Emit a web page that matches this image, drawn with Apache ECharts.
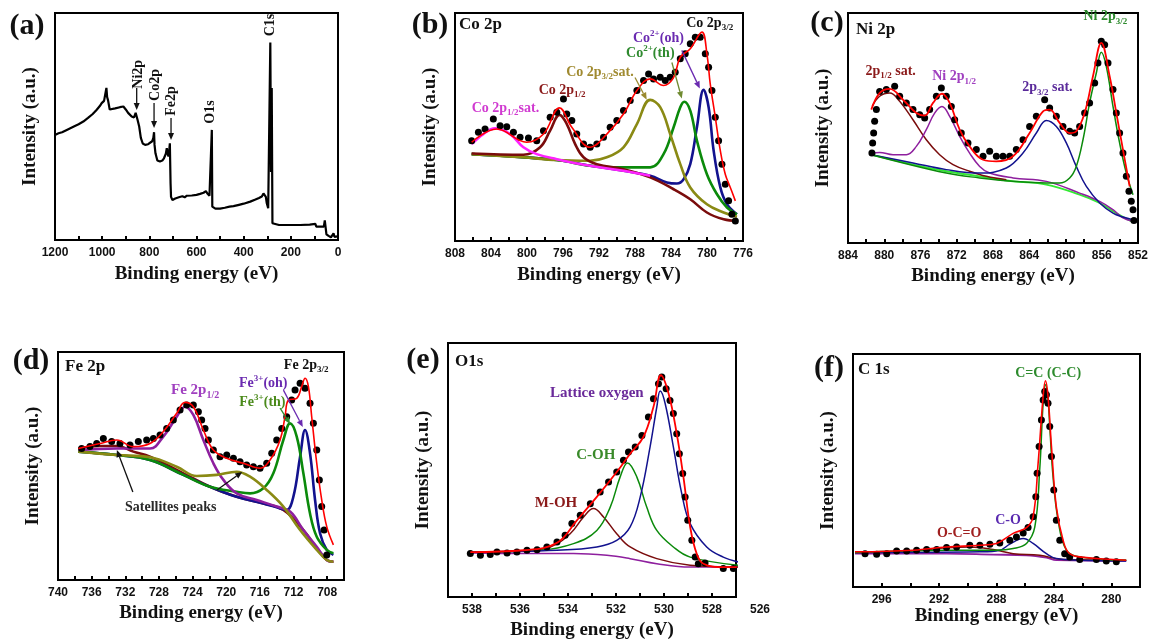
<!DOCTYPE html>
<html>
<head>
<meta charset="utf-8">
<title>XPS spectra</title>
<script src="https://cdn.jsdelivr.net/npm/echarts/dist/echarts.min.js"></script>
<style>
  html, body { margin: 0; padding: 0; background: #fff; }
  #chart { width: 1154px; height: 641px; }
</style>
</head>
<body>
<div id="chart"></div>
<script>
// ---------- survey spectrum (a): [binding energy eV, intensity a.u.] ----------
const surveySpectrum = [
  [1200,46.3],[1185,47],[1170,47.5],[1150,48.5],[1120,50],[1100,51],[1080,52.2],[1060,53.8],
  [1040,55.5],[1023,57.4],[1010,59],[1002,60.3],[992,61.3],[986,62],[982,67],[979,63],[975,61.5],
  [968,57.5],[960,57],[945,58],[925,58.5],[910,58.8],[900,57.5],[890,56],[875,54.4],[865,54],
  [858,56],[850,53],[843,50],[836,45],[828,42.5],[818,41.9],[805,42.2],[797,42.6],[788,43.5],
  [783,45],[780,47.5],[778,42],[774,38.2],[766,35],[755,34.6],[745,35],[738,36],[730,38],
  [726,40.4],[722,38],[719,36.8],[716,39],[713,42.6],[710,25],[708,19],[702,17.6],[690,18.3],
  [675,18.8],[660,19.3],[650,18.8],[641,19.5],[620,19.6],[600,19.9],[585,20.3],[570,20.8],
  [560,21.5],[554,20.5],[545,19.5],[537,19],[535,48.5],[533,14.7],[520,13.8],[500,13.8],
  [480,14.2],[460,14.7],[443,14.9],[420,15.5],[400,16],[372,16.9],[350,17.8],[335,18.5],
  [323,19.2],[316,20.5],[311,21.3],[306,19],[302,16.2],[296,14],[291,14.5],[287,87],[284,30],
  [281,67],[278,7.4],[270,6.8],[250,6.6],[200,6.6],[160,6.6],[120,6.8],[96,7.1],[92,5.9],
  [75,5.9],[60,5.9],[56,8.6],[52,8.1],[49,2.5],[40,1.8],[30,1.2],[24,1.5],[19,2.9],[15,1.4],
  [8,1.2],[2,1.6]
];

// ---------- Co 2p (b) ----------
const coExp = [
  [806.15,44.0],[805.40,47.7],[804.66,49.1],[803.74,53.5],[802.99,50.6],[802.25,50.1],[801.51,47.7],
  [800.77,45.5],[799.84,45.2],[798.92,44.0],[798.17,48.4],[797.43,54.3],[796.69,56.5],[795.95,62.3],
  [795.58,55.7],[795.02,52.8],[794.47,46.9],[793.72,42.5],[792.98,41.1],[792.24,42.5],[791.50,45.5],
  [790.76,49.9],[790.02,52.8],[789.28,57.2],[788.53,61.6],[787.79,66.0],[787.05,70.4],[786.49,73.3],
  [785.94,71.1],[785.20,71.8],[784.64,70.4],[784.09,71.8],[783.53,74.0],[782.97,79.9],[782.42,82.1],
  [781.86,86.5],[781.30,89.4],[780.75,89.4],[780.19,82.1],[779.82,76.2],[779.45,66.0],[779.08,54.3],
  [778.71,44.0],[778.34,33.7],[777.97,24.9],[777.60,17.6],[777.23,11.7],[776.85,8.8]
];
const coEnvelope = [
  [806.15,43.3],[803.37,49.1],[800.03,43.3],[798.17,46.9],[796.39,58.4],[795.02,49.9],[792.98,41.1],
  [791.13,46.9],[789.28,55.7],[787.79,66.0],[786.31,71.1],[784.83,68.2],[783.71,71.8],[782.97,80.6],
  [781.86,84.3],[780.56,91.6],[780.01,82.1],[779.64,68.9],[779.08,54.3],[778.52,39.6],[777.97,29.3],
  [777.41,23.5],[776.85,17.6]
];
const co2p12 = [
  [806.15,38.4],[800.40,37.8],[798.54,41.1],[797.43,48.4],[796.39,55.3],[795.58,51.3],[794.65,42.5],
  [793.72,36.7],[792.24,33.7],[789.28,31.5],[786.31,27.9],[783.71,22.7],[781.86,18.3],[780.01,12.5],
  [778.15,9.5],[776.67,8.8]
];
const co2p12Sat = [
  [806.15,42.5],[804.85,46.9],[803.55,49.4],[801.88,46.9],[800.40,41.1],[798.92,38.1],[796.69,35.9],
  [792.98,33.0],[789.28,30.8],[786.31,28.6]
];
const co2p32Sat = [
  [806.15,38.1],[800.40,36.7],[796.69,35.5],[792.98,35.2],[791.13,36.7],[789.28,41.1],[787.79,51.3],
  [786.31,61.9],[785.20,58.7],[784.09,46.9],[782.97,33.7],[781.86,23.5],[780.01,16.1],[778.15,12.5],
  [776.67,10.6]
];
const coTh = [
  [806.15,38.1],[796.69,35.5],[792.98,33.0],[789.28,32.3],[786.31,32.3],[784.83,38.1],[783.71,49.9],
  [782.97,58.7],[782.53,61.1],[781.86,57.2],[781.12,44.0],[780.01,29.3],[778.89,20.5],[777.78,14.7],
  [776.67,11.7]
];
const coOh = [
  [806.15,38.1],[796.69,35.5],[792.98,33.0],[789.28,30.8],[786.31,28.6],[784.46,25.7],[783.34,25.2],
  [782.60,27.1],[781.86,33.7],[781.12,49.9],[780.38,66.3],[779.82,58.7],[779.26,39.6],[778.52,23.5],
  [777.78,16.1],[776.67,11.7]
];

// ---------- Ni 2p (c) ----------
const niExp = [
  [881.36,39.1],[881.28,43.5],[881.17,47.8],[881.06,52.9],[880.87,58.0],[880.51,65.9],[879.77,66.7],
  [878.85,68.1],[878.30,63.8],[877.56,60.9],[876.83,58.0],[876.09,55.8],[875.54,54.3],[874.99,58.0],
  [874.25,63.8],[873.70,67.4],[873.15,63.8],[872.60,59.4],[872.23,53.6],[871.50,47.8],[870.76,43.5],
  [869.84,40.6],[869.10,37.7],[868.37,39.9],[867.63,37.7],[866.90,37.7],[866.16,37.7],[865.43,40.6],
  [864.69,44.9],[863.96,50.7],[863.22,55.1],[862.30,62.3],[861.75,58.7],[861.01,55.1],[860.28,50.7],
  [859.54,48.6],[858.99,47.8],[858.44,50.7],[857.89,56.5],[857.34,60.9],[856.78,69.6],[856.42,78.3],
  [856.05,87.7],[855.68,86.2],[855.31,78.3],[854.76,66.7],[854.39,56.5],[854.03,47.8],[853.66,39.1],
  [853.29,29.0],[853.00,22.5],[852.74,18.1],[852.55,14.5],[852.45,9.8]
];
const niEnvelope = [
  [881.43,58.0],[880.51,65.2],[879.40,67.0],[877.93,62.3],[876.46,56.5],[875.54,55.4],[874.62,60.9],
  [873.63,64.9],[872.78,60.9],[871.68,49.3],[870.58,42.0],[869.10,36.2],[867.63,35.5],[865.79,37.7],
  [863.96,47.8],[862.48,57.2],[861.75,58.0],[860.65,52.2],[859.54,47.8],[858.81,48.6],[857.89,56.5],
  [856.97,72.5],[856.05,87.0],[855.13,72.5],[854.39,56.5],[853.66,40.6],[852.92,24.6]
];
const ni2p12Sat = [
  [881.32,59.4],[880.51,63.8],[879.40,65.2],[878.30,61.6],[876.83,53.6],[875.36,44.9],[873.89,38.4],
  [872.41,34.1],[870.58,31.2],[868.74,29.0],[866.53,27.5]
];
const ni2p12 = [
  [881.43,38.8],[880.51,39.4],[879.03,38.4],[877.56,38.4],[876.46,42.0],[875.36,49.3],[874.44,56.5],
  [873.63,59.4],[872.78,55.1],[871.68,46.4],[870.58,39.1],[869.47,33.3],[868.37,30.4],[865.79,28.3],
  [862.12,26.8],[858.44,21.7],[856.23,18.1],[854.76,14.5],[853.66,10.9],[852.55,9.4]
];
const niBackground = [
  [881.43,38.4],[876.83,34.1],[873.15,31.2],[869.47,29.0],[865.79,26.8],[862.12,25.4],[858.44,21.0],
  [856.23,17.4],[854.76,13.8],[852.55,9.0]
];
const ni2p32Sat = [
  [881.43,38.4],[876.83,34.8],[873.15,31.9],[869.47,30.4],[866.53,32.6],[864.69,39.1],[863.22,47.8],
  [862.12,53.3],[861.01,50.7],[859.91,43.5],[858.81,33.3],[857.70,24.6],[856.23,17.4],[854.76,13.0],
  [853.66,11.3],[852.55,10.1]
];
const ni2p32 = [
  [881.43,38.4],[873.15,30.4],[869.47,28.3],[865.79,26.8],[862.12,26.1],[860.65,26.1],[859.54,28.3],
  [858.81,33.3],[858.07,44.9],[857.34,60.9],[856.60,73.9],[856.05,82.9],[855.50,76.8],[854.76,59.4],
  [854.03,43.5],[853.29,30.4],[852.55,21.0]
];

// ---------- Fe 2p (d) ----------
const feExp = [
  [737.19,57.7],[736.20,58.5],[735.40,59.9],[734.61,62.1],[733.62,60.7],[732.63,59.9],[731.44,59.2],
  [730.45,60.7],[729.46,61.4],[728.66,62.1],[727.87,63.6],[727.08,66.5],[726.29,70.2],[725.49,74.6],
  [724.70,76.8],[723.91,76.8],[723.31,73.8],[722.92,70.2],[722.52,66.5],[722.12,61.4],[721.53,57.0],
  [720.74,54.1],[719.94,54.8],[719.15,53.4],[718.36,51.9],[717.57,50.4],[716.77,49.7],[715.98,49.0],
  [715.19,51.2],[714.59,55.6],[714.00,61.4],[713.40,66.5],[712.81,71.6],[712.22,78.9],[711.82,83.3],
  [711.22,86.3],[710.63,84.1],[710.04,77.5],[709.64,68.7],[709.24,57.0],[708.93,43.9],[708.65,32.2],
  [708.37,21.9],[708.05,11.0]
];
const feEnvelope = [
  [737.58,57.7],[735.01,59.9],[733.02,61.4],[731.04,58.5],[729.06,59.9],[727.48,65.1],[725.89,73.1],
  [724.90,77.9],[723.91,76.0],[722.72,65.8],[721.53,57.0],[719.94,53.4],[717.96,51.2],[715.98,49.0],
  [714.79,52.6],[713.60,61.4],[713.01,71.6],[712.61,78.9],[711.62,79.7],[711.03,84.8],[710.63,88.5],
  [710.23,84.8],[709.84,71.6],[709.24,51.2],[708.65,35.1],[708.05,23.4],[707.26,15.4]
];
const fe2p12 = [
  [737.58,57.0],[733.02,57.7],[729.06,57.7],[727.48,62.9],[725.89,71.6],[724.90,76.0],[723.91,72.4],
  [722.72,61.4],[721.53,51.2],[720.34,43.9],[718.76,38.0],[716.38,35.1],[714.00,32.2],[712.41,30.0],
  [710.83,21.9],[709.24,14.6],[708.05,8.8],[707.26,8.0]
];
const feSatHigh = [
  [737.58,57.7],[735.01,58.8],[733.02,58.8],[731.04,56.3],[729.06,54.1],[725.10,46.8],[721.93,40.9],
  [718.76,36.5],[715.59,33.6],[713.21,30.7],[710.83,21.9],[709.24,13.9],[708.05,8.8],[707.26,8.0]
];
const feSatLow = [
  [737.58,56.3],[733.02,54.8],[729.06,53.8],[725.89,49.7],[723.51,45.6],[721.13,46.1],[718.76,47.5],
  [717.17,45.3],[715.19,39.5],[713.21,32.2],[711.22,21.9],[709.24,13.2],[708.05,8.8],[707.26,8.0]
];
const feOh = [
  [737.58,56.3],[733.02,54.8],[729.06,52.6],[725.10,46.1],[721.93,40.9],[718.76,36.5],[715.59,33.6],
  [713.60,31.4],[712.81,30.7],[712.02,36.5],[711.22,54.1],[710.63,65.8],[710.04,55.6],[709.44,35.1],
  [708.85,20.5],[708.05,13.2],[707.26,11.0]
];
const feTh = [
  [737.58,56.3],[733.02,54.8],[729.06,52.6],[725.10,46.1],[721.93,40.9],[718.76,38.7],[717.17,38.0],
  [715.59,40.2],[714.40,46.8],[713.21,61.4],[712.41,68.7],[711.62,62.9],[710.83,46.8],[710.04,29.2],
  [709.24,19.0],[708.05,13.2],[707.26,11.7]
];

// ---------- O 1s (e) ----------
const oExp = [
  [538.07,17.1],[537.65,16.4],[537.24,16.7],[536.96,17.7],[536.54,17.3],[536.13,17.7],[535.71,18.4],
  [535.29,18.6],[534.88,19.7],[534.46,21.7],[534.12,24.3],[533.84,28.9],[533.49,32.2],[533.07,36.7],
  [532.66,41.3],[532.31,45.3],[531.97,49.2],[531.69,53.8],[531.48,57.1],[531.20,59.1],[530.92,63.6],
  [530.65,70.9],[530.44,78.1],[530.23,84.0],[530.09,86.6],[529.91,82.0],[529.75,77.4],[529.61,72.2],
  [529.47,64.3],[529.36,56.4],[529.22,48.6],[529.12,39.4],[529.01,30.2],[528.84,22.3],[528.70,15.7],
  [528.57,13.1],[528.29,13.4],[527.53,11.2],[527.11,11.2]
];
const oEnvelope = [
  [538.07,17.7],[535.85,18.4],[534.46,21.3],[533.63,30.2],[532.80,39.4],[531.97,49.2],[531.41,56.4],
  [530.86,63.0],[530.44,74.8],[530.13,87.3],[529.81,80.1],[529.47,64.3],[529.19,47.2],[528.91,27.6],
  [528.64,17.1],[528.36,13.1],[527.53,11.8],[526.97,11.8]
];
const oBackground = [
  [538.07,17.3],[535.85,17.1],[533.77,17.1],[532.38,16.4],[531.41,15.1],[530.30,13.1],[528.91,11.8],
  [526.90,11.8]
];
const oMOH = [
  [538.07,17.7],[535.85,18.1],[534.74,19.7],[533.91,24.9],[533.35,31.5],[532.94,34.8],[532.52,31.5],
  [531.97,24.9],[531.41,19.7],[530.30,15.1],[528.91,12.5],[526.90,11.8]
];
const oCOH = [
  [538.07,17.7],[535.16,18.4],[533.77,21.0],[532.80,26.2],[532.24,35.4],[531.83,47.2],[531.52,52.8],
  [531.13,47.2],[530.72,35.4],[530.30,26.2],[529.61,19.7],[528.91,15.7],[526.90,12.5]
];
const oLattice = [
  [538.07,17.7],[534.46,18.4],[532.80,19.7],[531.97,22.3],[531.41,27.6],[530.99,39.4],[530.58,59.1],
  [530.30,74.8],[530.16,81.1],[529.95,76.1],[529.61,59.1],[529.26,40.7],[528.91,28.9],[528.22,19.7],
  [527.53,15.7],[526.90,13.8]
];

// ---------- C 1s (f) ----------
const cExp = [
  [297.16,14.3],[296.35,14.1],[295.65,14.3],[294.96,15.4],[294.26,15.4],[293.57,15.8],[292.87,16.1],
  [292.17,16.1],[291.48,16.9],[290.78,17.2],[289.86,17.9],[289.16,17.9],[288.46,18.4],[287.77,18.9],
  [287.07,20.1],[286.61,21.5],[286.14,23.2],[285.80,25.5],[285.45,30.1],[285.26,38.7],[285.17,48.8],
  [285.03,60.3],[284.87,71.7],[284.75,80.3],[284.64,83.9],[284.52,82.5],[284.41,78.9],[284.29,68.9],
  [284.17,56.0],[284.01,41.6],[283.83,28.7],[283.59,20.1],[283.25,14.3],[282.90,12.9],[282.20,11.8],
  [281.04,11.8],[280.35,11.2],[279.65,10.8]
];
const cEnvelope = [
  [297.86,15.1],[293.80,15.8],[291.48,17.2],[289.16,17.9],[288.00,18.7],[286.84,23.0],[285.91,25.5],
  [285.45,30.1],[285.10,53.1],[284.75,81.8],[284.59,88.5],[284.41,81.8],[284.17,60.3],[283.83,34.4],
  [283.36,20.1],[282.90,14.3],[281.74,12.6],[279.88,11.8],[278.96,11.5]
];
const cCC = [
  [297.86,14.8],[291.48,15.8],[288.00,15.8],[286.84,16.5],[285.91,18.7],[285.33,25.8],[284.99,50.2],
  [284.75,78.9],[284.59,86.8],[284.41,80.3],[284.29,69.0],[284.06,47.3],[283.71,28.7],[283.13,15.8],
  [282.20,12.9],[278.96,11.5]
];
const cCO = [
  [297.86,14.8],[289.16,15.1],[287.77,15.8],[287.07,18.4],[286.14,20.8],[285.45,18.7],[284.52,14.3],
  [283.83,12.2],[282.20,11.5],[278.96,11.2]
];
const cOCO = [
  [297.86,14.8],[293.80,15.5],[291.48,16.8],[289.86,17.2],[288.23,16.1],[286.84,14.3],[284.99,13.6],
  [283.36,11.8],[278.96,11.5]
];
const cBackground = [
  [297.86,14.3],[291.48,14.3],[288.23,13.9],[285.91,13.6],[284.52,12.6],[283.83,11.5],[278.96,11.2]
];

// ---------- look & layout ----------
const SERIF = "'Liberation Serif','Times New Roman',serif";
const SANS = "'Liberation Sans',Arial,sans-serif";
const COL = {
  red: '#ff0000', blue: '#12128e', green: '#0b8a0b', olive: '#8a8a14', brown: '#7a0c0c',
  magenta: '#ff22ff', purple: '#8e1f9e', lime: '#33e833', dots: '#000000'
};

// one frame per panel: pixel box + energy window (axis runs high -> low)
const frames = [
  { left: 55,  top: 13,  width: 283, height: 227, min: 0,   max: 1200, step: 100, every: 200, gap: 25 },
  { left: 455, top: 13,  width: 288, height: 228, min: 776, max: 808,  step: 2,   every: 4,   gap: 25 },
  { left: 848, top: 13,  width: 290, height: 230, min: 852, max: 884,  step: 2,   every: 4,   gap: 24 },
  { left: 58,  top: 352, width: 286, height: 228, min: 706, max: 740,  step: 2,   every: 4,   gap: 24 },
  { left: 448, top: 343, width: 288, height: 254, min: 527, max: 539,  step: 1,   every: 2,   gap: 24 },
  { left: 853, top: 354, width: 287, height: 233, min: 278, max: 298,  step: 2,   every: 4,   gap: 20 }
];

const chart = echarts.init(document.getElementById('chart'), null, { renderer: 'canvas' });

const grid = frames.map(f => ({
  left: f.left, top: f.top, width: f.width, height: f.height,
  show: true, borderColor: '#000', borderWidth: 2, backgroundColor: 'transparent'
}));

const xAxis = frames.map((f, i) => ({
  type: 'value', gridIndex: i, inverse: true, min: f.min, max: f.max, interval: f.step,
  name: 'Binding energy (eV)', nameLocation: 'middle', nameGap: f.gap,
  nameTextStyle: { fontFamily: SERIF, fontWeight: 'bold', fontSize: 19, color: '#111' },
  axisLine: { show: true, lineStyle: { color: '#000', width: 2 } },
  axisTick: { show: true, inside: true, length: 4, lineStyle: { color: '#000', width: 2 } },
  axisLabel: {
    margin: 7, fontFamily: SANS, fontWeight: 'bold', fontSize: 12, color: '#111',
    formatter: v => (Math.round(v) % f.every === 0 ? String(Math.round(v)) : '')
  },
  splitLine: { show: false }
}));

const yAxis = frames.map((f, i) => ({
  type: 'value', gridIndex: i, min: 0, max: 100,
  name: 'Intensity (a.u.)', nameLocation: 'middle', nameGap: 15, nameRotate: 90,
  nameTextStyle: { fontFamily: SERIF, fontWeight: 'bold', fontSize: 19, color: '#111' },
  axisLine: { show: false }, axisTick: { show: false }, axisLabel: { show: false },
  splitLine: { show: false }
}));

function curve(gi, data, color, width, z) {
  return {
    type: 'line', xAxisIndex: gi, yAxisIndex: gi, data: data,
    symbol: 'none', smooth: 0.4, z: z || 2,
    lineStyle: { color: color, width: width }, silent: true
  };
}
function dots(gi, data) {
  return {
    type: 'scatter', xAxisIndex: gi, yAxisIndex: gi, data: data, symbolSize: 7, z: 5,
    itemStyle: { color: COL.dots, opacity: 1 }, silent: true
  };
}

const series = [
  // (a) survey
  { type: 'line', xAxisIndex: 0, yAxisIndex: 0, data: surveySpectrum, symbol: 'none',
    lineStyle: { color: '#000', width: 2.2 }, silent: true },
  // (b) Co 2p
  curve(1, coOh, COL.blue, 2.6), curve(1, coTh, COL.green, 2.6), curve(1, co2p32Sat, COL.olive, 2.6),
  curve(1, co2p12, COL.brown, 2.6), curve(1, co2p12Sat, COL.magenta, 2.6),
  dots(1, coExp), curve(1, coEnvelope, COL.red, 1.6, 6),
  // (c) Ni 2p
  curve(2, niBackground, COL.lime, 1.8), curve(2, ni2p12Sat, COL.brown, 1.5), curve(2, ni2p12, COL.purple, 1.5),
  curve(2, ni2p32Sat, COL.blue, 1.5), curve(2, ni2p32, COL.green, 1.5),
  dots(2, niExp), curve(2, niEnvelope, COL.red, 1.8, 6),
  // (d) Fe 2p
  curve(3, feSatHigh, COL.brown, 2.6), curve(3, feOh, COL.blue, 2.6), curve(3, feTh, COL.green, 2.6),
  curve(3, fe2p12, COL.purple, 2.6), curve(3, feSatLow, COL.olive, 2.6),
  dots(3, feExp), curve(3, feEnvelope, COL.red, 1.6, 6),
  // (e) O 1s
  curve(4, oBackground, COL.purple, 1.5), curve(4, oMOH, COL.brown, 1.5), curve(4, oCOH, COL.green, 1.5),
  curve(4, oLattice, COL.blue, 1.5),
  dots(4, oExp), curve(4, oEnvelope, COL.red, 1.8, 6),
  // (f) C 1s
  curve(5, cBackground, COL.purple, 1.8), curve(5, cOCO, COL.brown, 1.5), curve(5, cCO, COL.blue, 1.5),
  curve(5, cCC, COL.green, 1.5),
  dots(5, cExp), curve(5, cEnvelope, COL.red, 1.6, 6)
];

chart.setOption({
  animation: false,
  backgroundColor: '#ffffff',
  grid: grid, xAxis: xAxis, yAxis: yAxis, series: series
});

// ---------- annotations, anchored in data coordinates ----------
const notes = [
  // survey peak labels (rotated)
  { g: 0, at: [848, 73],   t: 'Ni2p', c: '#111', f: 14, rot: true },
  { g: 0, at: [776, 68.3], t: 'Co2p', c: '#111', f: 14, rot: true },
  { g: 0, at: [708, 61.2], t: 'Fe2p', c: '#111', f: 14, rot: true },
  { g: 0, at: [539, 56.4], t: 'O1s',  c: '#111', f: 14, rot: true },
  { g: 0, at: [288, 94.7], t: 'C1s',  c: '#111', f: 14, rot: true },
  // Co 2p
  { g: 1, at: [779.7, 95.5], t: 'Co 2p{s|3/2}',     c: '#111',    f: 14 },
  { g: 1, at: [785.4, 88.9], t: 'Co{p|2+}(oh)',     c: '#6a2ab0', f: 14 },
  { g: 1, at: [786.3, 82.3], t: 'Co{p|2+}(th)',     c: '#2f8a2f', f: 14 },
  { g: 1, at: [791.9, 73.9], t: 'Co 2p{s|3/2}sat.', c: '#a08a30', f: 14 },
  { g: 1, at: [796.1, 66.0], t: 'Co 2p{s|1/2}',     c: '#8b1a1a', f: 14 },
  { g: 1, at: [802.4, 58.1], t: 'Co 2p{s|1/2}sat.', c: '#d03ad0', f: 14 },
  // Ni 2p
  { g: 2, at: [855.6, 98.4], t: 'Ni 2p{s|3/2}',     c: '#2e8b2e', f: 14 },
  { g: 2, at: [879.3, 74.5], t: '2p{s|1/2} sat.',   c: '#8b1a1a', f: 14 },
  { g: 2, at: [872.3, 72.3], t: 'Ni 2p{s|1/2}',     c: '#a040c0', f: 14 },
  { g: 2, at: [862.0, 67.5], t: '2p{s|3/2} sat.',   c: '#5a2a9a', f: 14 },
  // Fe 2p
  { g: 3, at: [710.5, 94.3], t: 'Fe 2p{s|3/2}',     c: '#111',    f: 14 },
  { g: 3, at: [723.7, 83.3], t: 'Fe 2p{s|1/2}',     c: '#a040c0', f: 15 },
  { g: 3, at: [715.6, 86.4], t: 'Fe{p|3+}(oh)',     c: '#6a2ab0', f: 14 },
  { g: 3, at: [715.7, 78.1], t: 'Fe{p|3+}(th)',     c: '#4a8a1a', f: 14 },
  { g: 3, at: [726.6, 32.0], t: 'Satellites peaks', c: '#2a2a2a', f: 14 },
  // O 1s
  { g: 4, at: [532.8, 80.2], t: 'Lattice oxygen',   c: '#6a2a9a', f: 15 },
  { g: 4, at: [532.84, 55.8], t: 'C-OH',            c: '#3a8a2a', f: 15 },
  { g: 4, at: [534.5, 36.9], t: 'M-OH',             c: '#8b1a1a', f: 15 },
  // C 1s
  { g: 5, at: [284.4, 91.7], t: 'C=C (C-C)',        c: '#2e8b2e', f: 14 },
  { g: 5, at: [287.2, 28.6], t: 'C-O',              c: '#5a2ab0', f: 14 },
  { g: 5, at: [290.6, 23.0], t: 'O-C=O',            c: '#a02020', f: 14 }
];

const pointers = [
  { g: 0, from: [853.6, 67],  to: [853.6, 57.3], c: '#111' },
  { g: 0, from: [780, 60.4],  to: [780, 49.3],   c: '#111' },
  { g: 0, from: [708, 53.7],  to: [708, 44],     c: '#111' },
  { g: 1, from: [782.8, 83.6], to: [780.8, 66.9], c: '#6a2ab0' },
  { g: 1, from: [783.9, 78.3], to: [782.8, 62.5], c: '#6f8a30' },
  { g: 1, from: [788.0, 71.7], to: [786.7, 62.0], c: '#9a8a30' },
  { g: 3, from: [713.2, 83.3], to: [710.9, 67.1], c: '#6a2ab0' },
  { g: 3, from: [713.6, 75.4], to: [712.4, 68.4], c: '#2e8a2e' },
  { g: 3, from: [731.1, 38.6], to: [733.0, 57.0], c: '#111' },
  { g: 3, from: [721.1, 39.5], to: [718.1, 47.4], c: '#111' }
];

// panel letters and element titles, placed relative to each frame
const panelTags = [
  { x: 27, y: 26, t: '(a)' }, { x: 430, y: 25, t: '(b)' }, { x: 827, y: 23, t: '(c)' },
  { x: 31, y: 361, t: '(d)' }, { x: 423, y: 360, t: '(e)' }, { x: 829, y: 368, t: '(f)' }
];
const panelTitles = [
  { g: 1, dx: 4, dy: 12, t: 'Co 2p' }, { g: 2, dx: 8, dy: 17, t: 'Ni 2p' },
  { g: 3, dx: 7, dy: 15, t: 'Fe 2p' }, { g: 4, dx: 7, dy: 19, t: 'O1s' },
  { g: 5, dx: 5, dy: 16, t: 'C 1s' }
];

function richStyles(size, color) {
  const base = { fontFamily: SERIF, fontWeight: 'bold', fill: color };
  return {
    s: Object.assign({ fontSize: Math.round(size * 0.64), lineHeight: Math.round(size * 0.64), verticalAlign: 'bottom' }, base),
    p: Object.assign({ fontSize: Math.round(size * 0.64), lineHeight: Math.round(size * 0.64), verticalAlign: 'top' }, base)
  };
}

function arrowShapes(x1, y1, x2, y2, color) {
  const ang = Math.atan2(y2 - y1, x2 - x1);
  const len = 7, half = 3;
  const bx = x2 - len * Math.cos(ang), by = y2 - len * Math.sin(ang);
  const nx = -Math.sin(ang) * half, ny = Math.cos(ang) * half;
  return [
    { type: 'line', z: 100, silent: true,
      shape: { x1: x1, y1: y1, x2: bx, y2: by }, style: { stroke: color, lineWidth: 1.3 } },
    { type: 'polygon', z: 100, silent: true,
      shape: { points: [[x2, y2], [bx + nx, by + ny], [bx - nx, by - ny]] }, style: { fill: color } }
  ];
}

const graphics = [];
notes.forEach(n => {
  const p = chart.convertToPixel({ gridIndex: n.g }, n.at);
  graphics.push({
    type: 'text', x: p[0], y: p[1], rotation: n.rot ? Math.PI / 2 : 0, z: 100, silent: true,
    style: {
      text: n.t, fill: n.c, fontFamily: SERIF, fontWeight: 'bold', fontSize: n.f,
      lineHeight: Math.round(n.f * 1.3), align: 'center', verticalAlign: 'middle',
      rich: richStyles(n.f, n.c)
    }
  });
});
pointers.forEach(a => {
  const p1 = chart.convertToPixel({ gridIndex: a.g }, a.from);
  const p2 = chart.convertToPixel({ gridIndex: a.g }, a.to);
  arrowShapes(p1[0], p1[1], p2[0], p2[1], a.c).forEach(s => graphics.push(s));
});
panelTags.forEach(tg => {
  graphics.push({
    type: 'text', x: tg.x, y: tg.y, z: 100, silent: true,
    style: { text: tg.t, fill: '#111', fontFamily: SERIF, fontWeight: 'bold', fontSize: 30,
             align: 'center', verticalAlign: 'middle' }
  });
});
panelTitles.forEach(pt => {
  const f = frames[pt.g];
  graphics.push({
    type: 'text', x: f.left + pt.dx, y: f.top + pt.dy, z: 100, silent: true,
    style: { text: pt.t, fill: '#111', fontFamily: SERIF, fontWeight: 'bold', fontSize: 17,
             align: 'left', verticalAlign: 'middle' }
  });
});
// the O 1s energy scale carries one extra tick label just past its frame
(function () {
  const f = frames[4];
  const p = chart.convertToPixel({ gridIndex: 4 }, [f.min - f.step, 0]);
  graphics.push({
    type: 'text', x: p[0], y: f.top + f.height + 7, z: 100, silent: true,
    style: { text: String(f.min - f.step), fill: '#111', fontFamily: SANS, fontWeight: 'bold',
             fontSize: 12, align: 'center', verticalAlign: 'top' }
  });
})();

chart.setOption({ graphic: graphics });
</script>
</body>
</html>
